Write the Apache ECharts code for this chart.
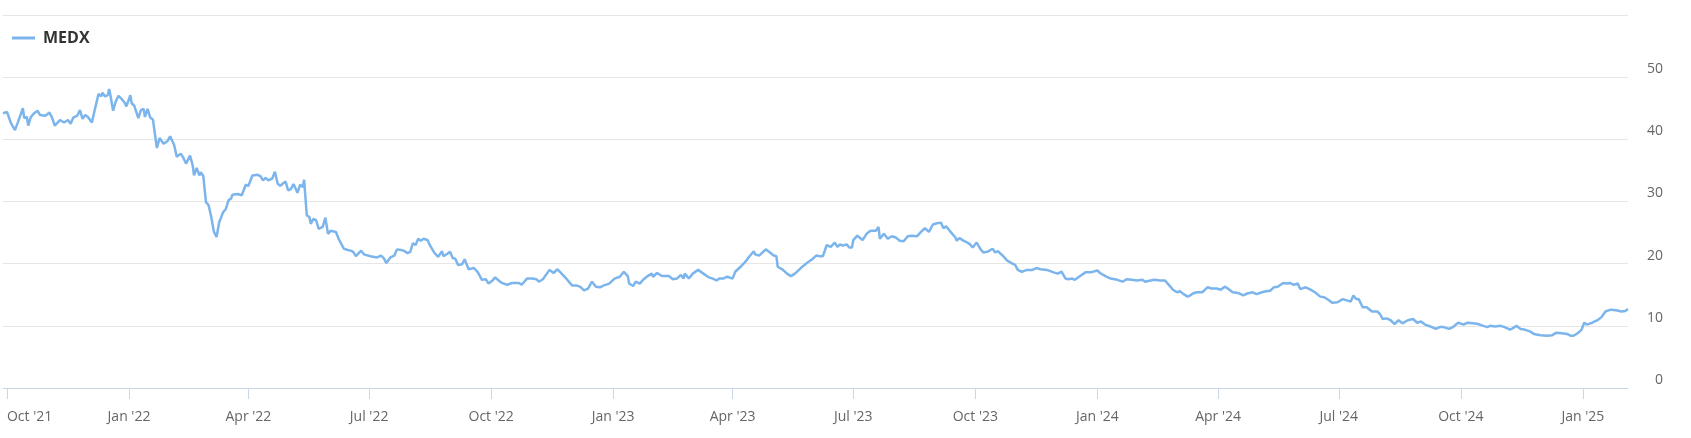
<!DOCTYPE html>
<html>
<head>
<meta charset="utf-8">
<script src="https://cdn.jsdelivr.net/npm/echarts@6/dist/echarts.min.js"></script>
<style>
html,body{margin:0;padding:0;background:#ffffff;}
#chart{width:1691px;height:438px;}
</style>
</head>
<body>
<div id="chart"></div>
<script>
// ---- data ----
const seriesName = 'MEDX';
const startDate = '2021-10-01';           // day 0 of dayOffsets
const axisStartOffset = -3;               // first day shown
const axisEndOffset = 1222;               // last day shown

const dayOffsets = [
-3,0,3,4,6,8,12,13,15,16,18,20,23,25,29,32,34,36,40,43,46,48,50,53,55,57,59,61,64,67,69,71,72,74,76,77,78,80,82,84,86,87,89,90,93,94,96,99,101,103,104,106,108,110,
113,115,116,118,121,123,126,128,131,133,135,138,140,141,143,145,146,148,149,150,152,154,156,158,160,161,163,165,167,169,170,174,177,180,182,185,189,191,193,195,197,200,202,204,206,208,210,212,214,216,219,221,223,224,
226,228,229,231,233,235,238,240,242,244,248,250,254,257,259,261,263,267,269,274,279,282,284,286,289,292,294,297,299,302,304,306,308,310,312,314,317,319,322,325,328,329,332,334,336,338,340,343,345,348,352,355,358,361,363,366,368,370,373,377,381,386,388,392,396,399,401,404,409,412,415,419,422,426,429,432,435,438,441,444,447,450,454,458,462,465,468,469,472,474,477,480,483,486,487,490,494,499,502,505,508,510,511,514,517,521,525,529,532,535,537,540,543,547,549,553,557,559,563,564,567,572,574,578,580,581,585,588,591,594,597,600,603,607,610,613,615,618,621,624,626,628,630,633,635,637,638,641,645,648,651,655,657,658,661,664,667,670,673,676,679,682,686,689,692,695,698,701,704,706,708,711,715,716,718,721,724,726,728,731,734,736,739,743,745,747,751,754,758,760,762,765,769,773,776,779,784,789,792,795,798,800,803,805,809,813,817,822,824,828,832,837,841,844,848,852,856,858,862,865,869,873,877,879,882,884,887,890,892,894,897,901,905,908,912,915,918,921,924,928,932,935,939,942,946,950,952,955,958,962,965,967,970,973,975,979,982,986,990,993,996,999,1003,1007,1010,1013,1015,1017,1019,1022,1025,1029,1033,1035,1037,1040,1043,1046,1049,1052,1056,1060,1063,1066,1069,1073,1077,1080,1083,1087,1090,1094,1098,1101,1105,1109,1113,1116,1118,1122,1126,1129,1133,1135,1138,1141,1144,1148,1151,1156,1161,1165,1168,1172,1176,1179,1181,1184,1187,1189,1191,1195,1196,1199,1202,1205,1206,1209,1213,1217,1220,1222
];

const prices = [
44.2,44.4,42.6,42.3,41.5,42.6,45.0,43.4,43.6,42.2,43.6,44.1,44.6,43.9,43.8,44.3,43.5,42.2,43.1,42.7,43.1,42.5,43.5,43.8,44.7,43.3,43.9,43.6,42.7,45.5,47.3,46.9,47.5,46.9,47.1,48.1,47.1,44.6,46.1,47.0,46.6,46.9,45.8,45.3,47.1,45.8,45.4,43.4,44.7,44.9,43.6,44.9,43.5,43.2,
38.6,40.2,40.5,39.3,39.7,40.5,39.1,37.2,37.7,37.0,36.1,37.4,35.8,34.2,35.4,34.2,34.7,34.1,34.3,29.9,29.4,27.5,25.1,24.3,26.7,27.2,28.3,28.8,30.2,30.5,31.1,31.2,31.0,32.7,32.5,34.2,34.3,34.1,33.4,33.8,33.4,33.7,34.8,32.9,32.5,32.9,33.2,31.8,32.0,32.8,31.4,32.7,32.3,33.5,
27.8,27.5,26.4,27.2,27.0,25.6,25.9,27.4,24.8,25.3,25.1,24.0,22.4,22.2,22.1,21.9,21.2,22.1,21.5,21.2,21.0,21.3,20.9,20.1,21.0,21.3,22.3,22.2,22.1,21.7,21.9,23.3,23.0,24.0,23.7,24.0,23.8,22.9,21.8,21.1,22.0,21.2,21.6,21.9,20.9,20.8,19.8,19.9,20.7,19.1,19.3,18.6,17.4,17.5,16.8,17.3,17.8,17.4,16.9,16.6,16.9,16.9,16.6,17.6,17.6,17.5,17.1,17.5,19.0,18.5,19.1,18.2,17.5,16.5,16.5,16.3,15.7,16.0,17.1,16.3,16.2,16.5,16.8,17.6,17.9,18.7,18.0,16.8,16.4,17.1,16.8,17.5,18.0,18.4,17.9,18.5,18.0,18.0,17.5,17.6,18.2,17.6,18.4,17.6,18.4,19.0,18.4,17.8,17.6,17.3,17.6,17.6,17.9,17.6,18.7,19.5,20.4,21.0,22.0,21.5,21.3,22.3,22.0,21.3,21.2,19.5,19.0,18.4,18.0,18.4,19.0,19.6,20.1,20.7,21.3,21.2,21.2,23.0,22.7,23.4,22.7,23.1,22.9,23.1,22.6,22.6,23.8,24.5,23.8,24.8,25.3,25.3,25.9,24.0,24.8,24.0,24.4,24.2,23.7,23.6,24.4,24.5,24.4,25.1,25.7,25.1,26.3,26.5,26.6,25.7,26.0,25.2,24.2,23.7,24.1,23.7,23.4,23.1,22.6,23.4,22.3,21.8,21.9,22.4,21.8,22.0,21.2,20.5,20.0,19.8,19.0,18.7,19.0,19.0,19.3,19.1,19.0,18.6,18.4,18.7,17.6,17.5,17.6,17.4,18.0,18.6,18.6,18.9,18.5,18.0,17.6,17.4,17.1,17.5,17.4,17.3,17.4,17.1,17.3,17.4,17.3,17.3,16.3,15.8,15.4,15.6,15.1,14.7,14.9,15.2,15.4,15.4,16.2,16.0,16.0,15.8,16.3,15.9,15.4,15.3,14.9,15.2,15.4,15.1,15.4,15.6,15.6,16.2,16.3,16.9,16.8,16.9,16.6,16.8,15.9,16.2,15.9,15.4,14.7,14.6,14.2,13.7,13.8,14.3,14.1,13.9,14.9,14.3,14.3,13.0,13.0,12.3,12.3,11.9,11.1,11.2,10.9,10.3,10.9,10.4,10.9,11.1,10.5,10.7,10.2,9.9,9.5,9.8,9.8,9.5,9.8,10.5,10.2,10.5,10.4,10.3,10.0,9.8,10.0,9.9,10.0,9.8,9.4,9.6,10.0,9.5,9.4,9.1,8.7,8.5,8.4,8.5,8.9,8.8,8.7,8.4,8.4,8.8,9.4,10.5,10.2,10.5,10.2,10.9,11.4,12.3,12.0,12.6,12.5,12.3,12.4,12.7
];

const tickDates = ['2021-10-01','2022-01-01','2022-04-01','2022-07-01','2022-10-01','2023-01-01','2023-04-01','2023-07-01','2023-10-01','2024-01-01','2024-04-01','2024-07-01','2024-10-01','2025-01-01'];
const tickLabels = ["Oct '21","Jan '22","Apr '22","Jul '22","Oct '22","Jan '23","Apr '23","Jul '23","Oct '23","Jan '24","Apr '24","Jul '24","Oct '24","Jan '25"];
const yMin = 0, yMax = 60, yStep = 10;

// ---- helpers ----
function parseDate(s){ const p = s.split('-').map(Number); return new Date(p[0], p[1]-1, p[2]).getTime(); }
const start = startDate.split('-').map(Number);
function offsetToTime(d){ return new Date(start[0], start[1]-1, start[2] + d).getTime(); }
const tickTimes = tickDates.map(parseDate);
const seriesData = dayOffsets.map((d, i) => [offsetToTime(d), prices[i]]);

const chart = echarts.init(document.getElementById('chart'), null, {renderer: 'canvas'});
chart.setOption({
  animation: false,
  backgroundColor: '#ffffff',
  textStyle: { fontFamily: 'Open Sans' },
  legend: {
    left: 12, top: 28, padding: 0,
    icon: 'rect', itemWidth: 23, itemHeight: 3,
    textStyle: { fontSize: 16, fontWeight: 'bold', color: '#333333', fontFamily: 'Open Sans', padding: [0,0,0,3], lineHeight: 20 },
    data: [seriesName]
  },
  grid: { left: 3, right: 63, top: 15, bottom: 50, containLabel: false },
  xAxis: {
    type: 'value',
    min: offsetToTime(axisStartOffset),
    max: offsetToTime(axisEndOffset),
    axisLine: { show: true, lineStyle: { color: '#ccd6eb', width: 1 } },
    axisTick: { show: true, customValues: tickTimes, length: 11, lineStyle: { color: '#ccd6eb' } },
    axisLabel: {
      customValues: tickTimes,
      formatter: function (v) { const i = tickTimes.indexOf(v); return i >= 0 ? tickLabels[i] : ''; },
      color: '#666666', fontSize: 14, fontFamily: 'Open Sans', margin: 22,
      alignMinLabel: 'left'
    },
    splitLine: { show: false }
  },
  yAxis: {
    type: 'value', position: 'right',
    min: yMin, max: yMax, interval: yStep,
    axisLine: { show: false }, axisTick: { show: false },
    axisLabel: {
      formatter: function (v) { return '{n|' + v + '}'; },
      rich: { n: { width: 16, align: 'right', color: '#666666', fontSize: 14, fontFamily: 'Open Sans' } },
      color: '#666666', fontSize: 14, fontFamily: 'Open Sans', align: 'left', margin: 19,
      showMaxLabel: false, verticalAlign: 'bottom', lineHeight: 16
    },
    splitLine: { show: true, lineStyle: { color: '#e6e6e6', width: 1 } }
  },
  series: [{
    name: seriesName, type: 'line', data: seriesData,
    showSymbol: false, symbol: 'none', smooth: false,
    color: '#7cb5ec',
    lineStyle: { color: '#7cb5ec', width: 2.5 }
  }]
});
</script>
</body>
</html>
